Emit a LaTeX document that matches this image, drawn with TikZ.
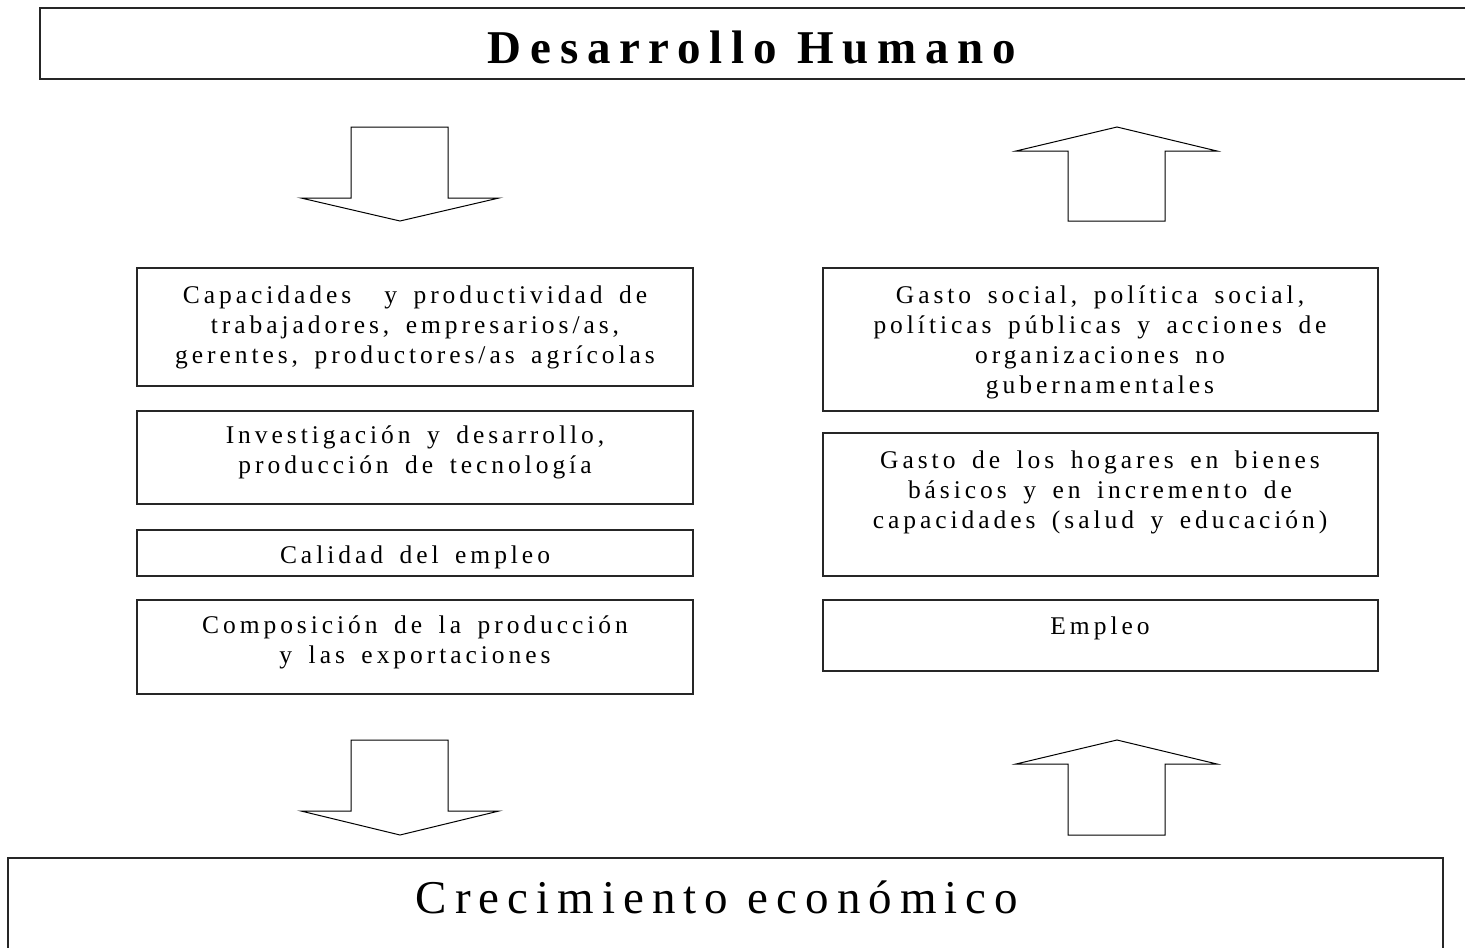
\documentclass[tikz,border=0pt]{standalone}
\usepackage{fontspec}
\setmainfont{Liberation Serif}
\newfontfamily\boxfont{Liberation Serif}[LetterSpace=15.5,WordSpace=1.6]
\newfontfamily\bigfont{Liberation Serif}[LetterSpace=17]
\newfontfamily\titlefont{Liberation Serif}[LetterSpace=18.6]
\begin{document}
\begin{tikzpicture}[x=1pt,y=-1pt,
  frame/.style={draw=black!85, line width=1.1pt, rectangle, inner sep=0pt, outer sep=0pt},
  btext/.style={font=\boxfont\fontsize{25.5}{30}\selectfont, align=center, inner sep=0pt, anchor=north},
  blockarrow/.style={draw=black, line width=1pt, fill=white, line join=miter}]
\useasboundingbox (0,0) rectangle (1465,948);
\clip (0,0) rectangle (1465,948);
\fill[white] (0,0) rectangle (1465,948);
% title and bottom frames (open at the page edge)
\node[frame, anchor=north west, minimum width=1440, minimum height=71] (top) at (40,8) {};
\node[font=\titlefont\bfseries\fontsize{47}{56}\selectfont, anchor=base, inner sep=0pt] (toptext) at (752,63) {Desarrollo Humano};
\node[frame, anchor=north west, minimum width=1435, minimum height=110] (bot) at (8,858) {};
\node[font=\bigfont\fontsize{47}{56}\selectfont, anchor=base, inner sep=0pt] (bottext) at (717,913) {Crecimiento económico};
% left boxes
\node[frame, minimum width=556, minimum height=118] (L1) at (415,327) {};
\node[frame, minimum width=556, minimum height=93] (L2) at (415,457.5) {};
\node[frame, minimum width=556, minimum height=46] (L3) at (415,553) {};
\node[frame, minimum width=556, minimum height=94] (L4) at (415,647) {};
\node[btext] (L1t) at (415,282) {\strut Capacidades\ \ y productividad de\\trabajadores, empresarios/as,\\gerentes, productores/as agrícolas};
\node[btext] (L2t) at (415,422) {\strut Investigación y desarrollo,\\producción de tecnología};
\node[btext] (L3t) at (415,542) {\strut Calidad del empleo};
\node[btext] (L4t) at (415,612) {\strut Composición de la producción\\y las exportaciones};
% right boxes
\node[frame, minimum width=555, minimum height=143] (R1) at (1100.5,339.5) {};
\node[frame, minimum width=555, minimum height=143] (R2) at (1100.5,504.5) {};
\node[frame, minimum width=555, minimum height=71] (R3) at (1100.5,635.5) {};
\node[btext] (R1t) at (1100,282) {\strut Gasto social, política social,\\políticas públicas y acciones de\\organizaciones no\\gubernamentales};
\node[btext] (R2t) at (1100,447) {\strut Gasto de los hogares en bienes\\básicos y en incremento de\\capacidades (salud y educación)};
\node[btext] (R3t) at (1100,613) {\strut Empleo};
% block arrows
\draw[blockarrow] (351,127) -- (448,127) -- (448,198) -- (499,198) -- (400,221) -- (301,198) -- (351,198) -- cycle;
\draw[blockarrow] (1068,221) -- (1068,151) -- (1016,151) -- (1117,127) -- (1217,151) -- (1165,151) -- (1165,221) -- cycle;
\draw[blockarrow] (351,740) -- (448,740) -- (448,811) -- (499,811) -- (400,835) -- (301,811) -- (351,811) -- cycle;
\draw[blockarrow] (1068,835) -- (1068,764) -- (1016,764) -- (1117,740) -- (1217,764) -- (1165,764) -- (1165,835) -- cycle;
\end{tikzpicture}
\end{document}
